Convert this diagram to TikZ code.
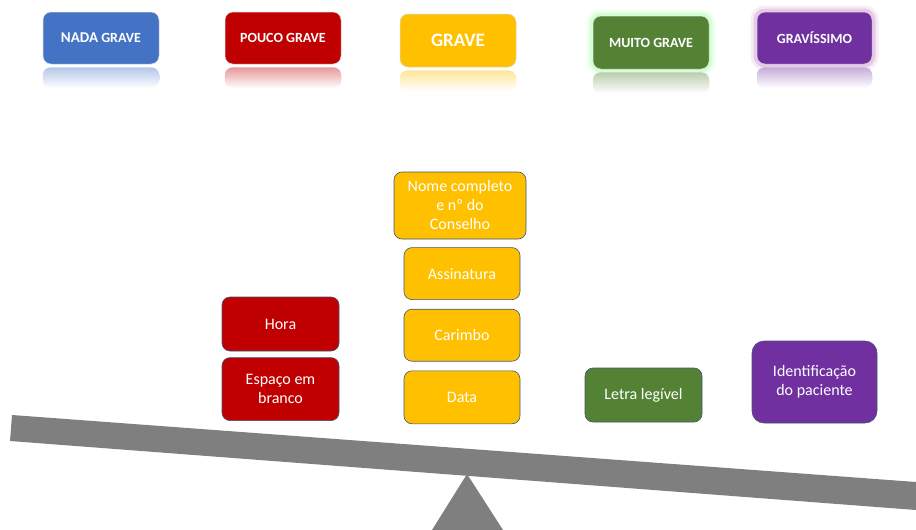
\documentclass[tikz,border=0pt]{standalone}
\usepackage{fontspec}
\setmainfont{Carlito}
\usetikzlibrary{positioning}
\definecolor{nada}{RGB}{68,114,196}
\definecolor{pouco}{RGB}{192,0,0}
\definecolor{grave}{RGB}{255,192,0}
\definecolor{muito}{RGB}{84,130,53}
\definecolor{gravis}{RGB}{112,48,160}
\definecolor{edge}{RGB}{65,85,120}
\definecolor{beam}{RGB}{127,127,127}
\tikzset{
 item/.style={draw=edge,line width=0.6pt,rounded corners=8pt,align=center,text=white,
              minimum width=116pt,minimum height=52pt,inner sep=2pt,
              font=\fontsize{16}{19}\selectfont},
 level/.style={draw=black!15,line width=0.5pt,rounded corners=8pt,align=center,text=white,
               minimum width=116pt,minimum height=52pt,
               font=\fontsize{14}{16}\selectfont\bfseries},
 glow/.style={preaction={draw=#1,line width=13pt,opacity=.12},
              preaction={draw=#1,line width=7pt,opacity=.25}},
 mirror/.style={rounded corners=8pt,top color=#1!40,bottom color=white,draw=none},
}

\begin{document}
\begin{tikzpicture}[x=1pt,y=-1pt,node distance=8pt]
\useasboundingbox (0,0) rectangle (916,530);
% niveis de gravidade
\node[level,fill=nada] (nada) at (101,38) {{\fontsize{15}{16}\selectfont NADA} GRAVE};
\node[level,fill=pouco] (pouco) at (283,38) {POUCO GRAVE};
\node[level,fill=grave,minimum height=53pt,font=\fontsize{19}{20}\selectfont\bfseries] (grave) at (458,40.5) {GRAVE};
\node[level,fill=muito,minimum height=53pt,glow=green!50] (muito) at (651,42.5) {MUITO GRAVE};
\node[level,fill=gravis,minimum width=115pt,glow=violet!60] (gravis) at (814.5,38) {GRAVÍSSIMO};
\foreach \n in {nada,pouco,grave,muito,gravis}
  \shade[mirror=\n] ([yshift=-3pt]\n.south west) rectangle ([yshift=-24pt]\n.south east);

% itens
\node[item,fill=grave,minimum width=132pt,minimum height=67pt] (nome) at (460,205.5) {Nome completo\\e nº do\\Conselho};
\node[item,fill=grave,below=of nome,xshift=2pt] (assin) {Assinatura};
\node[item,fill=grave,below=9pt of assin] (carimbo) {Carimbo};
\node[item,fill=grave,below=9pt of carimbo,minimum height=53pt] (data) {Data};
\node[item,fill=pouco,minimum width=117pt,minimum height=54pt] (hora) at (280.5,324) {Hora};
\node[item,fill=pouco,minimum width=117pt,minimum height=63pt,below=6pt of hora] (espaco) {Espaço em\\branco};
\node[item,fill=muito,minimum width=117pt,minimum height=54pt] (letra) at (643.5,395) {Letra legível};
\node[item,fill=gravis,minimum width=125pt,minimum height=82pt,rounded corners=12pt] (ident) at (814.5,382) {Identificação\\do paciente};

% balanca
\fill[beam] (467,474) -- (503,530) -- (432,530) -- cycle;
\fill[beam] (12,415) -- (916,482) -- (916,510) -- (10,441) -- cycle;
\end{tikzpicture}
\end{document}
